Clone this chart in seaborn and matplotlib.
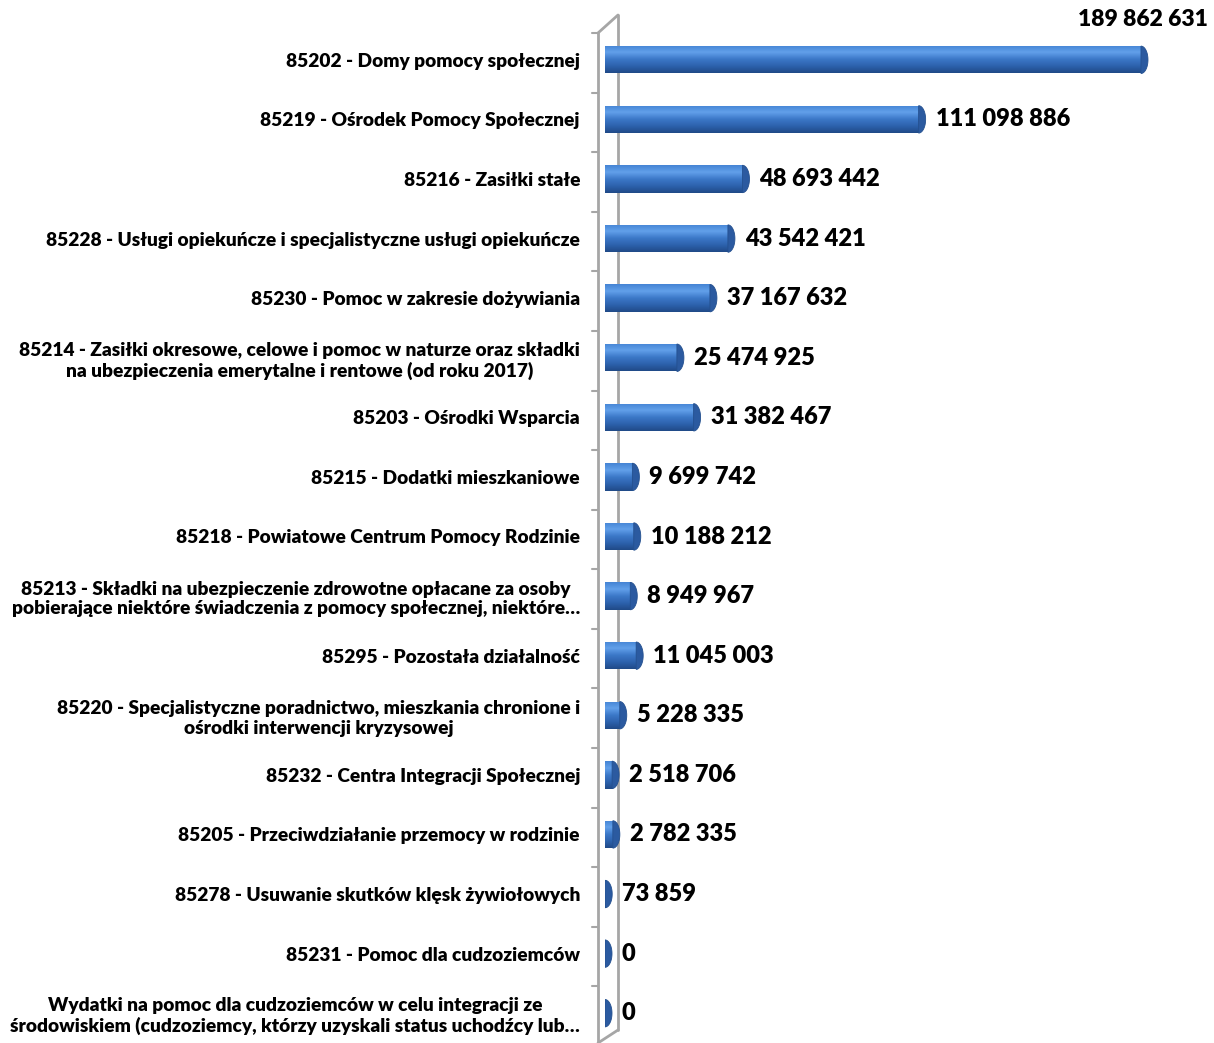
import numpy as np
import pandas as pd
import matplotlib.pyplot as plt
import seaborn as sns
from matplotlib.lines import Line2D
from matplotlib.patches import Polygon

# Dane
kategorie = [
    "85202 - Domy pomocy społecznej",
    "85219 - Ośrodek Pomocy Społecznej",
    "85216 - Zasiłki stałe",
    "85228 - Usługi opiekuńcze i specjalistyczne usługi opiekuńcze",
    "85230 - Pomoc w zakresie dożywiania",
    "85214 - Zasiłki okresowe, celowe i pomoc w naturze oraz składki\nna ubezpieczenia emerytalne i rentowe (od roku 2017)",
    "85203 - Ośrodki Wsparcia",
    "85215 - Dodatki mieszkaniowe",
    "85218 - Powiatowe Centrum Pomocy Rodzinie",
    "85213 - Składki na ubezpieczenie zdrowotne opłacane za osoby\npobierające niektóre świadczenia z pomocy społecznej, niektóre…",
    "85295 - Pozostała działalność",
    "85220 - Specjalistyczne poradnictwo, mieszkania chronione i\nośrodki interwencji kryzysowej",
    "85232 - Centra Integracji Społecznej",
    "85205 - Przeciwdziałanie przemocy w rodzinie",
    "85278 - Usuwanie skutków klęsk żywiołowych",
    "85231 - Pomoc dla cudzoziemców",
    "Wydatki na pomoc dla cudzoziemców w celu integracji ze\nśrodowiskiem (cudzoziemcy, którzy uzyskali status uchodźcy lub…",
]
wartosci = [189862631, 111098886, 48693442, 43542421, 37167632, 25474925,
            31382467, 9699742, 10188212, 8949967, 11045003, 5228335,
            2518706, 2782335, 73859, 0, 0]

df = pd.DataFrame({'kategoria': kategorie, 'wartosc': wartosci})

sns.set_style('white')
plt.rcParams['font.family'] = ['Lato', 'DejaVu Sans']
plt.rcParams['text.color'] = 'black'
plt.rcParams['ytick.color'] = 'black'

W, H = 1214, 1043
fig = plt.figure(figsize=(W / 100, H / 100), dpi=100)

# os: x=0 przy pikselu 605, 2.823 px na milion
x0_px = 605
xmax = 200e6
px_per_unit = 2.823e-6
ax_w = xmax * px_per_unit
top_px, bot_px = 30, 1043
ax = fig.add_axes([x0_px / W, 1 - bot_px / H, ax_w / W, (bot_px - top_px) / H])
ax.patch.set_visible(False)

sns.barplot(data=df, y='kategoria', x='wartosc', orient='h', ax=ax,
            width=0.46, color='#3a78c8', zorder=3)
ax.set_xlim(0, xmax)
ax.set_ylim(len(kategorie) - 0.5, -0.5)

# gradient na słupkach
grad = np.linspace(0, 1, 64).reshape(-1, 1)
cmap = sns.blend_palette(['#4584d4', '#62a0ea', '#3c78c8', '#2d62ad', '#204a88'], as_cmap=True)
cap = 7 / px_per_unit  # szerokość końcówki 3D w jednostkach danych
for p in ax.patches[:len(kategorie)]:
    x, y, w, h = p.get_x(), p.get_y(), p.get_width(), p.get_height()
    p.set_facecolor('none')
    p.set_edgecolor('none')
    if w > 0:
        im = ax.imshow(grad, extent=[x, x + w, y + h, y], aspect='auto',
                       cmap=cmap, zorder=3, interpolation='bilinear')
        im.set_clip_path(p)
    # zaokrąglona końcówka
    t = np.linspace(-np.pi / 2, np.pi / 2, 30)
    yc = y + h / 2
    pts = np.column_stack([x + w + cap * np.cos(t), yc + (h / 2) * np.sin(t)])
    pts = np.vstack([[x + w, yc + h / 2], pts[::-1], [x + w, yc - h / 2]])
    ax.add_patch(Polygon(pts, closed=True, facecolor='#2b5aa0',
                         edgecolor='#24508f', linewidth=0.6, zorder=4))

# etykiety wartości
def fmt(v):
    return f"{v:,}".replace(',', ' ')

for i, v in enumerate(wartosci):
    if i == 0:
        ax.annotate(fmt(v), (v + cap, i), xytext=(60, 40), textcoords='offset pixels',
                    ha='right', va='center', fontsize=16.5, fontweight='heavy',
                    color='black', annotation_clip=False)
    else:
        ax.annotate(fmt(v), (v + cap, i), xytext=(10, 0), textcoords='offset pixels',
                    ha='left', va='center', fontsize=17, fontweight='heavy',
                    color='black', annotation_clip=False)

# etykiety kategorii
ax.set_yticks(range(len(kategorie)))
ax.set_yticklabels(kategorie, fontsize=13.8, fontweight='heavy', multialignment='center')
ax.tick_params(axis='y', length=0, pad=18)
ax.set_xticks([])
ax.set_xlabel('')
ax.set_ylabel('')
for s in ax.spines.values():
    s.set_visible(False)

# "ściana" 3D osi
def fx(px):
    return px / W

def fy(py):
    return 1 - py / H

wall = '#a6a6a6'
lines = [
    ([598, 598], [33, 1043]),
    ([618, 618], [15, 1030]),
    ([598, 618], [33, 15]),
    ([598, 618], [1043, 1030]),
]
for xs, ys in lines:
    fig.add_artist(Line2D([fx(v) for v in xs], [fy(v) for v in ys],
                          color=wall, linewidth=2, zorder=-1))
step = (bot_px - top_px) / len(kategorie)
for k in range(len(kategorie)):
    yy = top_px + 3 + k * step
    fig.add_artist(Line2D([fx(592), fx(598)], [fy(yy), fy(yy)],
                          color=wall, linewidth=1.5, zorder=-1))

fig.savefig('out.png', dpi=100)
